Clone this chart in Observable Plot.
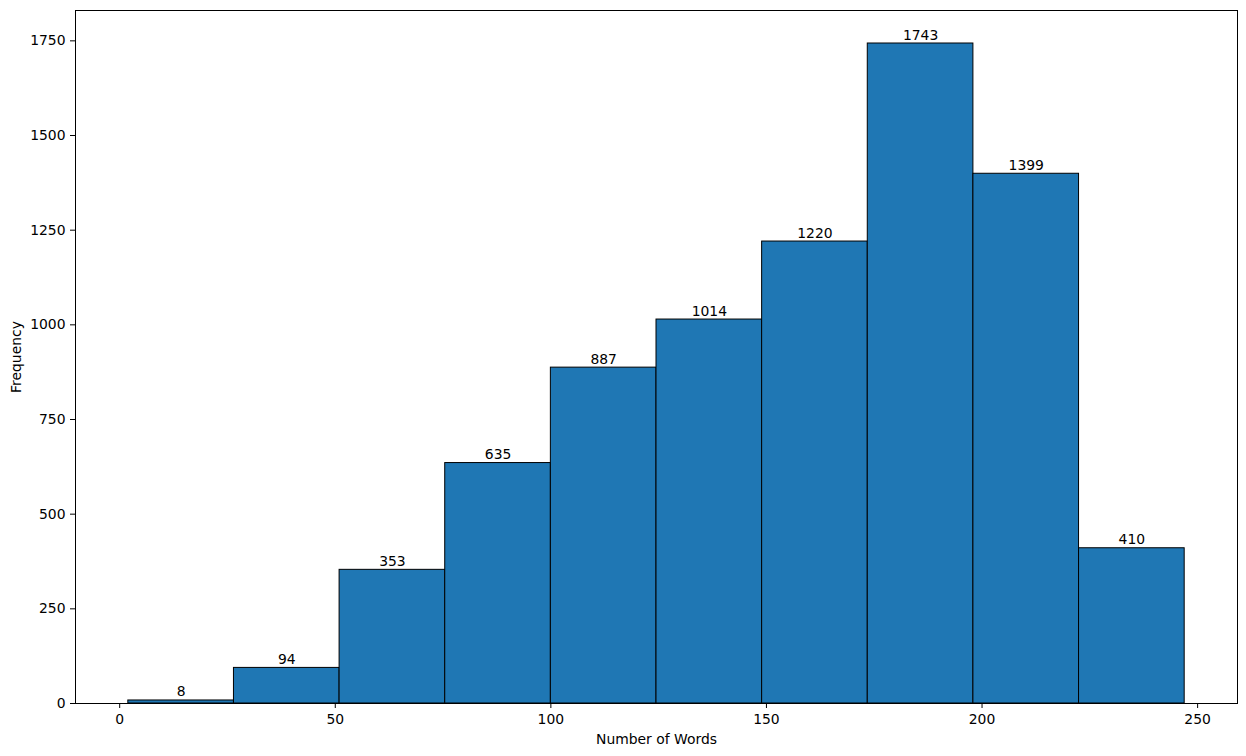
<!DOCTYPE html>
<html>
<head>
<meta charset="utf-8">
<script src="https://cdn.jsdelivr.net/npm/d3@7"></script>
<script src="https://cdn.jsdelivr.net/npm/@observablehq/plot@0.6"></script>
<style>
  html, body { margin: 0; padding: 0; background: #fff; }
  #chart svg { display: block; }
</style>
</head>
<body>
<div id="chart"></div>
<script>
// Bin edges (number of words) and counts per bin
const binEdges = [2, 26.5, 51, 75.5, 100, 124.5, 149, 173.5, 198, 222.5, 247];
const counts = [8, 94, 353, 635, 887, 1014, 1220, 1743, 1399, 410];
const xTicks = [0, 50, 100, 150, 200, 250];
const yTicks = [0, 250, 500, 750, 1000, 1250, 1500, 1750];

const bins = counts.map((c, i) => ({x1: binEdges[i], x2: binEdges[i + 1], count: c}));

const xMin = binEdges[0], xMax = binEdges[binEdges.length - 1];
const xPad = 0.05 * (xMax - xMin);
const yMax = d3.max(counts) * 1.05;

const chart = Plot.plot({
  width: 1246,
  height: 756,
  marginLeft: 75,
  marginRight: 9,
  marginTop: 10,
  marginBottom: 53,
  style: {fontFamily: "DejaVu Sans", fontSize: "13.9px", color: "#000", background: "#fff"},
  x: {domain: [xMin - xPad, xMax + xPad]},
  y: {domain: [0, yMax]},
  marks: [
    Plot.rect(bins, {x1: "x1", x2: "x2", y1: 0, y2: "count", fill: "#1f77b4", stroke: "#000", strokeWidth: 1}),
    Plot.text(bins, {x: d => (d.x1 + d.x2) / 2, y: "count", text: d => String(d.count), lineAnchor: "bottom", dy: -4, fill: "#000", fontSize: 13.9}),
    Plot.axisX({ticks: xTicks, tickFormat: "d", tickSize: 5, tickPadding: 6, label: "Number of Words", labelAnchor: "center", labelArrow: "none", labelOffset: 40, stroke: "#000"}),
    Plot.axisY({ticks: yTicks, tickFormat: "d", tickSize: 5, tickPadding: 5, label: "Frequency", labelAnchor: "center", labelArrow: "none", labelOffset: 64, stroke: "#000"}),
    Plot.frame({stroke: "#000", strokeWidth: 1})
  ]
});
document.getElementById("chart").appendChild(chart);
</script>
</body>
</html>
